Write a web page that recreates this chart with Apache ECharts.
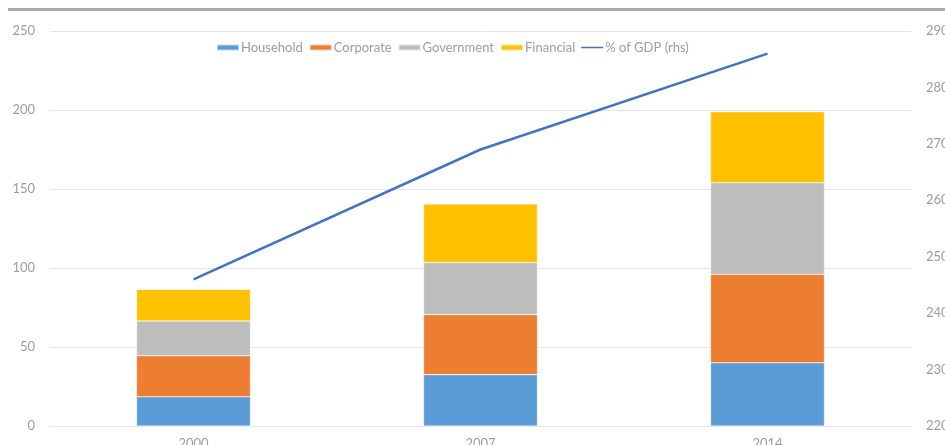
<!DOCTYPE html>
<html>
<head>
<meta charset="utf-8">
<style>
  html, body { margin: 0; padding: 0; background: #fff; }
  #chart { width: 945px; height: 445px; }
</style>
<script src="https://cdn.jsdelivr.net/npm/echarts@6/dist/echarts.min.js"></script>
</head>
<body>
<div id="chart"></div>
<script>
// Debt by sector (left axis) and total as % of GDP (right axis)
const years = ['2000', '2007', '2014'];
const household = [18.5, 32.5, 40];
const corporate = [26, 38, 56];
const government = [22, 33, 58];
const financial = [20, 37, 45];
const pctGdp = [246, 269, 286];

const leftTicks = { min: 0, max: 250, interval: 50 };
const rightTicks = { min: 220, max: 290, interval: 10 };

const FONT = 'Lato';
const TEXT = '#9d9d9d';
const GRID = '#e6e6e6';

// thin horizontal stroke for the line series' legend key
const LINE_ICON = 'path://M0,0 L0,0 M0,2.2 L23,2.2 L23,3.8 L0,3.8 Z M23,6 L23,6';

const chart = echarts.init(document.getElementById('chart'), null, { renderer: 'canvas' });

function barSeries(name, data, color) {
  return {
    name, type: 'bar', stack: 'debt', data,
    barWidth: 114,
    itemStyle: { color, borderColor: 'rgba(255,255,255,0.6)', borderWidth: 0.6 },
    emphasis: { disabled: true }
  };
}

chart.setOption({
  animation: false,
  textStyle: { fontFamily: FONT },
  graphic: [{
    type: 'rect',
    shape: { x: 8, y: 8, width: 940, height: 3 },
    style: { fill: '#ababab' },
    silent: true
  }],
  legend: {
    top: 41, left: 216, padding: 0,
    itemWidth: 22, itemHeight: 6, itemGap: 6,
    textStyle: { color: TEXT, fontSize: 13, fontFamily: FONT, padding: [0, 0, 0, -3] },
    data: [
      { name: 'Household', icon: 'rect' },
      { name: 'Corporate', icon: 'rect' },
      { name: 'Government', icon: 'rect' },
      { name: 'Financial', icon: 'rect' },
      { name: '% of GDP (rhs)', icon: LINE_ICON }
    ]
  },
  grid: { left: 50, right: 34, top: 31, bottom: 19, containLabel: false, outerBoundsMode: 'none' },
  xAxis: {
    type: 'category', data: years,
    axisLine: { lineStyle: { color: GRID, width: 1 } },
    axisTick: { show: false },
    axisLabel: { color: TEXT, fontSize: 13, margin: 11, fontFamily: FONT }
  },
  yAxis: [
    {
      type: 'value', ...leftTicks,
      axisLine: { show: false }, axisTick: { show: false },
      splitLine: { lineStyle: { color: GRID, width: 1 } },
      axisLabel: { color: TEXT, fontSize: 13, margin: 15, fontFamily: FONT }
    },
    {
      type: 'value', ...rightTicks,
      axisLine: { show: false }, axisTick: { show: false },
      splitLine: { show: false },
      axisLabel: { color: TEXT, fontSize: 13, margin: 15, fontFamily: FONT }
    }
  ],
  series: [
    barSeries('Household', household, '#5b9bd5'),
    barSeries('Corporate', corporate, '#ed7d31'),
    barSeries('Government', government, '#bdbdbb'),
    barSeries('Financial', financial, '#ffc000'),
    {
      name: '% of GDP (rhs)', type: 'line', yAxisIndex: 1, data: pctGdp,
      symbol: 'none', lineStyle: { color: '#4472c4', width: 2.5 },
      itemStyle: { color: '#4472c4' },
      emphasis: { disabled: true }
    }
  ]
});
</script>
</body>
</html>
